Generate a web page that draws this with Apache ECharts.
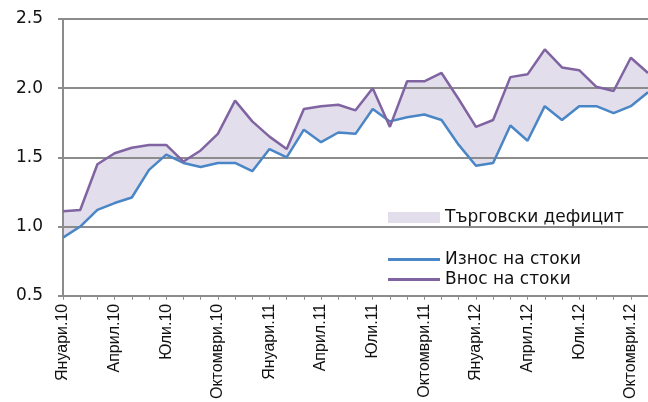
<!DOCTYPE html>
<html>
<head>
<meta charset="utf-8">
<script src="https://cdn.jsdelivr.net/npm/echarts@6/dist/echarts.min.js"></script>
<style>
html, body { margin: 0; padding: 0; background: #fff; }
#chart { width: 648px; height: 402px; }
</style>
</head>
<body>
<div id="chart"></div>
<script>
var months = ['Януари', 'Февруари', 'Март', 'Април', 'Май', 'Юни', 'Юли', 'Август', 'Септември', 'Октомври', 'Ноември', 'Декември'];
var years = ['10', '11', '12'];

// Jan 2010 - Nov 2012
var exportsData = [0.92, 1.00, 1.12, 1.17, 1.21, 1.41, 1.52, 1.46, 1.43, 1.46, 1.46, 1.40,
    1.56, 1.50, 1.70, 1.61, 1.68, 1.67, 1.85, 1.76, 1.79, 1.81, 1.77, 1.59,
    1.44, 1.46, 1.73, 1.62, 1.87, 1.77, 1.87, 1.87, 1.82, 1.87, 1.97];
var importsData = [1.11, 1.12, 1.45, 1.53, 1.57, 1.59, 1.59, 1.47, 1.55, 1.67, 1.91, 1.76,
    1.65, 1.56, 1.85, 1.87, 1.88, 1.84, 2.00, 1.72, 2.05, 2.05, 2.11, 1.92,
    1.72, 1.77, 2.08, 2.10, 2.28, 2.15, 2.13, 2.01, 1.98, 2.22, 2.11];

var categories = [];
years.forEach(function (y) {
    months.forEach(function (m) {
        categories.push(m + '.' + y);
    });
});
categories = categories.slice(0, exportsData.length);

var deficit = importsData.map(function (v, i) {
    return +(v - exportsData[i]).toFixed(2);
});

var gray = '#8c8c8c';
var chart = echarts.init(document.getElementById('chart'));
chart.setOption({
    animation: false,
    grid: { left: 63, top: 19, right: 0, bottom: 105 },
    legend: [
        {
            left: 383, top: 204,
            itemWidth: 52, itemHeight: 11, itemGap: 6,
            textStyle: { fontFamily: 'DejaVu Sans', fontSize: 17, color: '#111' },
            data: [{ name: 'Търговски дефицит', icon: 'rect' }]
        },
        {
            left: 383, top: 246, orient: 'vertical',
            itemWidth: 52, itemHeight: 3, itemGap: 3,
            textStyle: { fontFamily: 'DejaVu Sans', fontSize: 17, color: '#111' },
            data: [
                { name: 'Износ на стоки', icon: 'rect' },
                { name: 'Внос на стоки', icon: 'rect' }
            ]
        }
    ],
    xAxis: {
        type: 'category',
        boundaryGap: false,
        data: categories,
        axisLine: { lineStyle: { color: gray, width: 2 } },
        axisTick: { interval: 0, length: 4, lineStyle: { color: gray, width: 1 } },
        axisLabel: {
            interval: 2, rotate: 90, margin: 8,
            fontFamily: 'Liberation Sans', fontSize: 16, color: '#111'
        }
    },
    yAxis: {
        type: 'value',
        min: 0.5, max: 2.5, interval: 0.5,
        axisLine: { show: true, lineStyle: { color: gray, width: 2 } },
        axisTick: { show: true, length: 5, lineStyle: { color: gray, width: 2 } },
        splitLine: { lineStyle: { color: gray, width: 2 } },
        axisLabel: {
            margin: 20,
            fontFamily: 'DejaVu Sans', fontSize: 17, color: '#111',
            formatter: function (v) { return v.toFixed(1); }
        }
    },
    series: [
        {
            name: 'base', type: 'line', stack: 'gap', stackStrategy: 'all',
            symbol: 'none', z: -1,
            lineStyle: { width: 0, opacity: 0 },
            data: exportsData
        },
        {
            name: 'Търговски дефицит', type: 'line', stack: 'gap', stackStrategy: 'all',
            symbol: 'none', z: -1,
            itemStyle: { color: '#e2deec' },
            lineStyle: { width: 0, opacity: 0 },
            areaStyle: { color: '#e2deec', opacity: 1 },
            data: deficit
        },
        {
            name: 'Износ на стоки', type: 'line', symbol: 'none',
            itemStyle: { color: '#4a86c6' },
            lineStyle: { color: '#4a86c6', width: 2.5 },
            data: exportsData
        },
        {
            name: 'Внос на стоки', type: 'line', symbol: 'none',
            itemStyle: { color: '#8064a2' },
            lineStyle: { color: '#8064a2', width: 2.5 },
            data: importsData
        }
    ]
});
</script>
</body>
</html>
